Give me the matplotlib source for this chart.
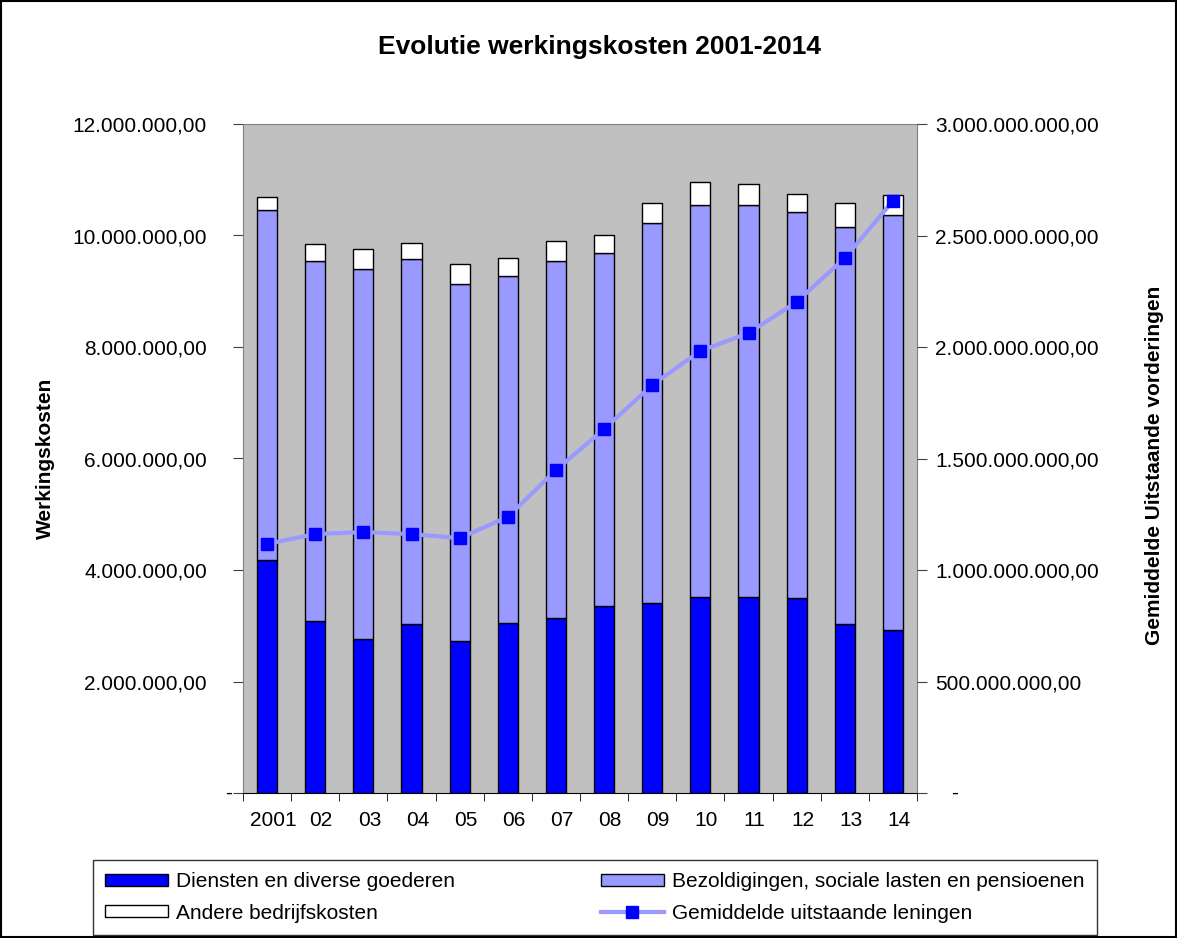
import matplotlib.pyplot as plt
import matplotlib.ticker as mticker
import matplotlib.patches as mpatches
import matplotlib.transforms as mtrans
from matplotlib.lines import Line2D
import numpy as np

plt.rcParams['font.family'] = ['Liberation Sans', 'DejaVu Sans']

years = ['2001', '02', '03', '04', '05', '06', '07', '08', '09', '10', '11', '12', '13', '14']
diensten = [4.18, 3.09, 2.77, 3.04, 2.73, 3.05, 3.14, 3.35, 3.41, 3.52, 3.52, 3.50, 3.04, 2.92]          # miljoen
bezold_top = [10.46, 9.55, 9.40, 9.58, 9.13, 9.28, 9.55, 9.69, 10.23, 10.55, 10.55, 10.43, 10.16, 10.37]
totaal = [10.69, 9.85, 9.75, 9.87, 9.49, 9.60, 9.90, 10.00, 10.58, 10.96, 10.93, 10.75, 10.58, 10.73]
leningen = [1.117, 1.161, 1.170, 1.161, 1.143, 1.238, 1.448, 1.632, 1.830, 1.982, 2.063, 2.202, 2.399, 2.655]  # miljard

diensten = np.array(diensten) * 1e6
bezold = np.array(bezold_top) * 1e6 - diensten
andere = np.array(totaal) * 1e6 - diensten - bezold
leningen = np.array(leningen) * 1e9

c_dienst = '#0000FF'
c_bezold = '#9999FF'
c_andere = '#FFFFFF'
fs = 15


def fmt_nl(v, pos=None):
    # nul wordt apart als '-' gezet (boekhoudnotatie)
    if abs(v) < 1e-6:
        return ''
    s = f'{v:,.2f}'
    return s.replace(',', 'X').replace('.', ',').replace('X', '.')


fig = plt.figure(figsize=(11.77, 9.38), dpi=100)
ax = fig.add_axes([243/1177, 1 - 793/938, (917-243)/1177, (793-124)/938])
ax.set_facecolor('#C0C0C0')

x = np.arange(len(years))
w = 0.42
ax.bar(x, diensten, w, color=c_dienst, edgecolor='black', lw=1, zorder=2)
ax.bar(x, bezold, w, bottom=diensten, color=c_bezold, edgecolor='black', lw=1, zorder=2)
ax.bar(x, andere, w, bottom=diensten + bezold, color=c_andere, edgecolor='black', lw=1, zorder=2)

ax.set_xlim(-0.5, len(years) - 0.5)
ax.set_ylim(0, 12e6)
ax.yaxis.set_major_locator(mticker.MultipleLocator(2e6))
ax.yaxis.set_major_formatter(mticker.FuncFormatter(fmt_nl))
ax.set_xticks(x)
ax.set_xticklabels(years)
ax.set_xticks(np.arange(-0.5, len(years)), minor=True)
ax.tick_params(axis='x', which='major', length=0, pad=13, labelsize=fs)
ax.tick_params(axis='x', which='minor', length=6, direction='out', color='black')
ax.tick_params(axis='y', length=7, direction='out', labelsize=fs, color='#404040', pad=19)
shift = mtrans.ScaledTranslation(6/100, 0, fig.dpi_scale_trans)
for lab in ax.get_xticklabels():
    lab.set_transform(lab.get_transform() + shift)
for s in ax.spines.values():
    s.set_color('#808080')
ax.spines['bottom'].set_color('black')
ax.set_ylabel('Werkingskosten', fontsize=fs, fontweight='bold')
ax.yaxis.set_label_coords((55 - 243) / 674, 0.5)
ax.text(-14/674, 0, '-', transform=ax.transAxes, ha='center', va='center', fontsize=fs)

ax2 = ax.twinx()
ax2.plot(x, leningen, color='#9999FF', lw=3, marker='s', markersize=9,
         markerfacecolor=c_dienst, markeredgecolor=c_dienst, zorder=3)
ax2.set_ylim(0, 3e9)
ax2.yaxis.set_major_locator(mticker.MultipleLocator(5e8))
ax2.yaxis.set_major_formatter(mticker.FuncFormatter(fmt_nl))
ax2.tick_params(axis='y', length=7, direction='out', labelsize=fs, color='#404040', pad=6)
for s in ax2.spines.values():
    s.set_visible(False)
ax2.set_ylabel('Gemiddelde Uitstaande vorderingen', fontsize=fs, fontweight='bold', rotation=90)
ax2.yaxis.set_label_coords((1145 - 243) / 674, 0.49)
ax2.text(1 + 38/674, 0, '-', transform=ax2.transAxes, ha='center', va='center', fontsize=fs)

fig.text(600/1177, 1 - 47/938, 'Evolutie werkingskosten 2001-2014', ha='center', va='center',
         fontsize=19, fontweight='bold')

handles = [
    mpatches.Patch(facecolor=c_dienst, edgecolor='black', label='Diensten en diverse goederen'),
    mpatches.Patch(facecolor=c_andere, edgecolor='black', label='Andere bedrijfskosten'),
    mpatches.Patch(facecolor=c_bezold, edgecolor='black', label='Bezoldigingen, sociale lasten en pensioenen'),
    Line2D([], [], color='#9999FF', lw=3, marker='s', markersize=9,
           markerfacecolor=c_dienst, markeredgecolor=c_dienst, label='Gemiddelde uitstaande leningen'),
]
leg = fig.legend(handles=handles, ncol=2, loc='lower left',
                 bbox_to_anchor=(93/1177, 3/938, 1004/1177, 73/938), mode='expand',
                 fontsize=fs, frameon=True, fancybox=False, edgecolor='black',
                 handlelength=3.0, handleheight=0.5, handletextpad=0.4,
                 borderaxespad=0, labelspacing=0.6, borderpad=0.6)
leg.get_frame().set_linewidth(1)

fig.patches.append(mpatches.Rectangle((0.001, 0.001), 0.998, 0.998, transform=fig.transFigure,
                                      fill=False, edgecolor='black', lw=1.5))

fig.savefig('out.png', dpi=100)
